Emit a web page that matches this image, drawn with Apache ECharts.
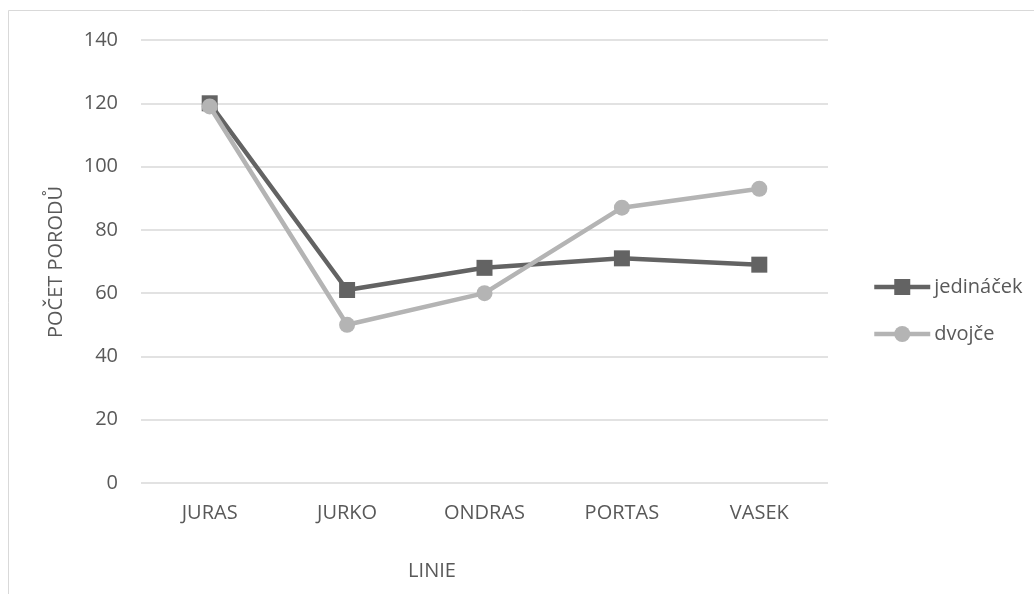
<!DOCTYPE html>
<html>
<head>
<meta charset="utf-8">
<script src="https://cdn.jsdelivr.net/npm/echarts@6/dist/echarts.min.js"></script>
<style>
  html, body { margin: 0; padding: 0; background: #fff; }
  #chart { width: 1034px; height: 594px; }
</style>
</head>
<body>
<div id="chart"></div>
<script>
// Počet porodů podle linie
const categories = ['JURAS', 'JURKO', 'ONDRAS', 'PORTAS', 'VASEK'];
const jedinacek = [120, 61, 68, 71, 69];
const dvojce = [119, 50, 60, 87, 93];
const yTicks = { min: 0, max: 140, interval: 20 };

const FONT = '"Open Sans", "Noto Sans", sans-serif';
const TEXT = '#595959';
const FS = 20;

const chart = echarts.init(document.getElementById('chart'), null, { renderer: 'canvas' });
chart.setOption({
  animation: false,
  backgroundColor: '#fff',
  textStyle: { fontFamily: FONT },
  grid: { left: 141, right: 206, top: 40, bottom: 111, containLabel: false },
  graphic: [
    { type: 'rect', shape: { x: 8.5, y: 10.5, width: 1200, height: 800 },
      style: { fill: 'none', stroke: '#d9d9d9', lineWidth: 1 }, silent: true, z: -1 },
    { type: 'text', x: 432, y: 571, style: { text: 'LINIE', fill: TEXT, font: FS + 'px ' + FONT, align: 'center', verticalAlign: 'middle' } },
    { type: 'text', x: 56, y: 262, rotation: Math.PI / 2, style: { text: 'POČET PORODŮ', fill: TEXT, font: FS + 'px ' + FONT, align: 'center', verticalAlign: 'middle' } }
  ],
  legend: {
    orient: 'vertical',
    left: 867,
    top: 272,
    itemWidth: 56,
    itemHeight: 20,
    itemGap: 27,
    lineStyle: { width: 4.5 },
    textStyle: { color: TEXT, fontSize: FS, fontFamily: FONT, padding: [0, 0, 0, -1] },
    data: ['jedináček', 'dvojče']
  },
  xAxis: {
    type: 'category',
    data: categories,
    boundaryGap: true,
    axisLine: { show: false },
    axisTick: { show: false },
    axisLabel: { color: TEXT, fontSize: FS, margin: 20, fontFamily: FONT }
  },
  yAxis: {
    type: 'value',
    min: yTicks.min, max: yTicks.max, interval: yTicks.interval,
    axisLine: { show: false },
    axisTick: { show: false },
    axisLabel: { color: TEXT, fontSize: FS, margin: 23, fontFamily: FONT },
    splitLine: { lineStyle: { color: '#d9d9d9', width: 1.5 } }
  },
  series: [
    {
      name: 'jedináček', type: 'line', data: jedinacek,
      symbol: 'rect', symbolSize: 16,
      lineStyle: { color: '#636363', width: 4.5 },
      itemStyle: { color: '#636363' }
    },
    {
      name: 'dvojče', type: 'line', data: dvojce,
      symbol: 'circle', symbolSize: 16,
      lineStyle: { color: '#b4b4b4', width: 4.5 },
      itemStyle: { color: '#b4b4b4' }
    }
  ]
});
</script>
</body>
</html>
